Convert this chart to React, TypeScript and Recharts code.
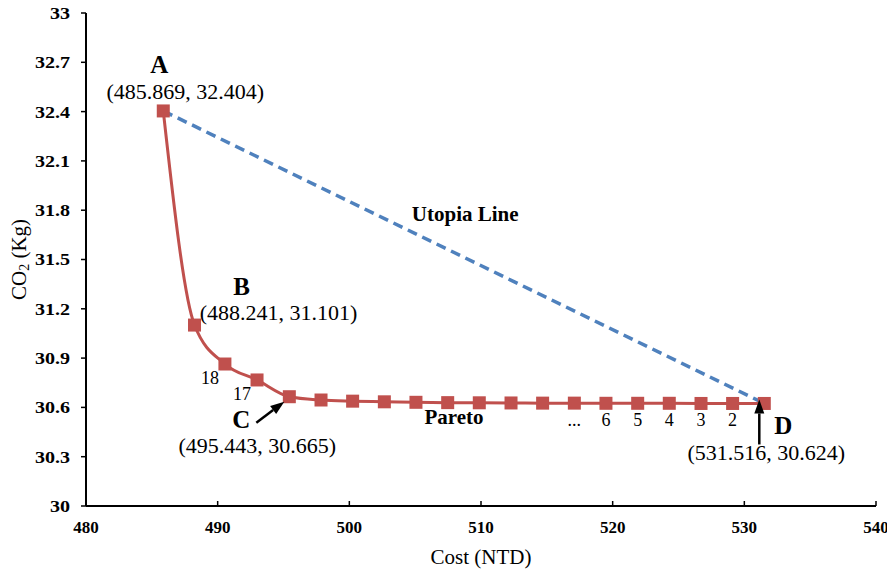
import React from 'react';
import { ComposedChart, Line, XAxis, YAxis, ReferenceDot, Label } from 'recharts';

// Pareto front (A, B, 18, 17, C, ... , 2, D)
const costs = [
  485.869, 488.241, 490.55, 492.99, 495.443, 497.85, 500.25, 502.66, 505.06, 507.47,
  509.87, 512.28, 514.68, 517.09, 519.49, 521.9, 524.3, 526.71, 529.11, 531.516,
];
const co2 = [
  32.404, 31.101, 30.864, 30.767, 30.665, 30.645, 30.638, 30.634, 30.631, 30.629,
  30.628, 30.627, 30.626, 30.626, 30.625, 30.625, 30.625, 30.624, 30.624, 30.624,
];
const pointLabels = ['', '', '18', '17', '', '', '', '', '', '', '', '', '', '...', '6', '5', '4', '3', '2', ''];

const xTicks = [480, 490, 500, 510, 520, 530, 540];
const yTicks = [30, 30.3, 30.6, 30.9, 31.2, 31.5, 31.8, 32.1, 32.4, 32.7, 33];

const pareto = costs.map((x, i) => ({ x, y: co2[i], label: pointLabels[i] }));
const utopia = [pareto[0], pareto[pareto.length - 1]];
const A = pareto[0];
const B = pareto[1];
const C = pareto[4];
const D = pareto[pareto.length - 1];

const RED = '#c0504d';
const BLUE = '#4f81bd';
const serif = { fontFamily: 'Liberation Serif, Times New Roman, serif' };

const XTick = (props: any) => {
  const { x, y, payload } = props;
  return (
    <g>
      <line x1={x} y1={y} x2={x} y2={y - 5} stroke="#000" strokeWidth={1.5} />
      <text x={x} y={y + 27} textAnchor="middle" style={serif} fontWeight="bold" fontSize={17} fill="#000">
        {payload.value}
      </text>
    </g>
  );
};

const YTick = (props: any) => {
  const { x, y, payload } = props;
  return (
    <g transform={`translate(${x},${y})`}>
      <text transform="scale(1.18,1)" textAnchor="end" dominantBaseline="central" style={serif} fontWeight="bold" fontSize={17} fill="#000">
        {payload.value}
      </text>
    </g>
  );
};

const Square = (props: any) => {
  const { cx, cy, index, payload } = props;
  const lbl = payload.label;
  const side = index === 2 || index === 3;
  return (
    <g key={`pt${index}`}>
      <rect x={cx - 6.5} y={cy - 6.5} width={13} height={13} fill={RED} />
      {lbl ? (
        <text
          x={side ? cx - 15 : cx}
          y={side ? cy + 20 : cy + 23}
          textAnchor="middle"
          style={serif}
          fontSize={18}
          fill="#000"
        >
          {lbl}
        </text>
      ) : null}
    </g>
  );
};

const arrow = (x1: number, y1: number, x2: number, y2: number) => {
  const ang = Math.atan2(y2 - y1, x2 - x1);
  const len = 14;
  const w = 5;
  const bx = x2 - len * Math.cos(ang);
  const by = y2 - len * Math.sin(ang);
  const px = -Math.sin(ang) * w;
  const py = Math.cos(ang) * w;
  return (
    <g>
      <line x1={x1} y1={y1} x2={bx} y2={by} stroke="#000" strokeWidth={2.5} />
      <polygon points={`${x2},${y2} ${bx + px},${by + py} ${bx - px},${by - py}`} fill="#000" />
    </g>
  );
};

const Note = ({ cx, cy, letter, lx, ly, coord, tx, ty, arr }: any) => (
  <g>
    <text x={cx + lx} y={cy + ly} textAnchor="middle" style={serif} fontWeight="bold" fontSize={25} fill="#000">
      {letter}
    </text>
    <text x={cx + tx} y={cy + ty} textAnchor="middle" style={serif} fontSize={22} fill="#000">
      {coord}
    </text>
    {arr ? arrow(cx + arr[0], cy + arr[1], cx + arr[2], cy + arr[3]) : null}
  </g>
);

const fmt = (p: { x: number; y: number }) => `(${p.x.toFixed(3)}, ${p.y.toFixed(3)})`;

const Caption = (text: string) => (props: any) => (
  <text x={props.cx} y={props.cy} textAnchor="middle" style={serif} fontWeight="bold" fontSize={21} fill="#000">
    {text}
  </text>
);

export default function App() {
  return (
    <div style={{ margin: '-8px 0 0 -8px', width: 895, height: 573, background: '#fff' }}>
      <ComposedChart width={895} height={573} margin={{ top: 13, right: 19, bottom: 0, left: 0 }}>
        <XAxis
          dataKey="x"
          type="number"
          domain={[480, 540]}
          ticks={xTicks}
          interval={0}
          height={67}
          tickSize={0}
          tickMargin={0}
          tick={<XTick />}
          axisLine={{ stroke: '#000', strokeWidth: 2 }}
        >
          <Label
            content={(p: any) => (
              <text
                x={p.viewBox.x + p.viewBox.width / 2}
                y={p.viewBox.y + 58}
                textAnchor="middle"
                style={serif}
                fontSize={21}
                fill="#000"
              >
                Cost (NTD)
              </text>
            )}
          />
        </XAxis>
        <YAxis
          dataKey="y"
          type="number"
          domain={[30, 33]}
          ticks={yTicks}
          interval={0}
          width={86}
          tickSize={5}
          tickMargin={11}
          tick={<YTick />}
          tickLine={{ stroke: '#000', strokeWidth: 1.5 }}
          axisLine={{ stroke: '#000', strokeWidth: 2 }}
        >
          <Label
            content={(p: any) => {
              const cx = 19;
              const cy = p.viewBox.y + p.viewBox.height / 2;
              return (
                <text
                  x={cx}
                  y={cy}
                  transform={`rotate(-90 ${cx} ${cy})`}
                  textAnchor="middle"
                  dominantBaseline="central"
                  style={serif}
                  fontSize={21}
                  fill="#000"
                >
                  CO<tspan fontSize={14} dy={5}>2</tspan>
                  <tspan dy={-5}> (Kg)</tspan>
                </text>
              );
            }}
          />
        </YAxis>
        <Line
          data={utopia}
          dataKey="y"
          type="linear"
          stroke={BLUE}
          strokeWidth={3.5}
          strokeDasharray="10 6"
          dot={false}
          isAnimationActive={false}
        />
        <Line
          data={pareto}
          dataKey="y"
          type="monotone"
          stroke={RED}
          strokeWidth={3}
          dot={Square}
          activeDot={false}
          isAnimationActive={false}
        />
        <ReferenceDot x={508.8} y={31.734} r={0} shape={Caption('Utopia Line')} />
        <ReferenceDot x={507.95} y={30.499} r={0} shape={Caption('Pareto')} />
        <ReferenceDot
          x={A.x}
          y={A.y}
          shape={(p: any) => <Note cx={p.cx} cy={p.cy} letter="A" lx={-4} ly={-38} coord={fmt(A)} tx={22} ty={-12} />}
        />
        <ReferenceDot
          x={B.x}
          y={B.y}
          shape={(p: any) => <Note cx={p.cx} cy={p.cy} letter="B" lx={47} ly={-30} coord={fmt(B)} tx={84} ty={-5} />}
        />
        <ReferenceDot
          x={C.x}
          y={C.y}
          shape={(p: any) => (
            <Note cx={p.cx} cy={p.cy} letter="C" lx={-48} ly={31} coord={fmt(C)} tx={-32} ty={56} arr={[-33, 26, -5, 5]} />
          )}
        />
        <ReferenceDot
          x={D.x}
          y={D.y}
          shape={(p: any) => (
            <Note cx={p.cx} cy={p.cy} letter="D" lx={19} ly={31} coord={fmt(D)} tx={2} ty={57} arr={[-5, 41, -5, -4]} />
          )}
        />
      </ComposedChart>
    </div>
  );
}
